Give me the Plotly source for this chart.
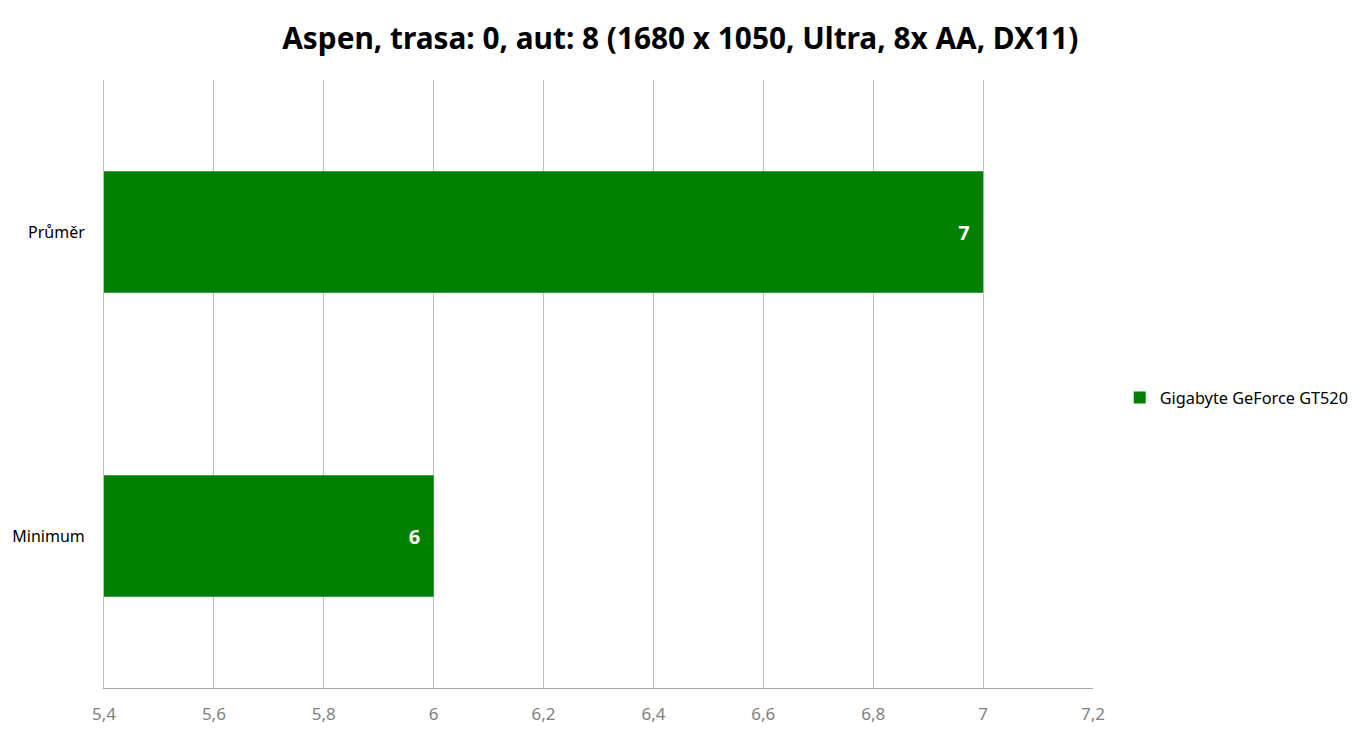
import plotly.graph_objects as go

categories = ["Minimum", "Průměr"]
values = [6, 7]
series_name = "Gigabyte GeForce GT520"
tick_vals = [5.4, 5.6, 5.8, 6.0, 6.2, 6.4, 6.6, 6.8, 7.0, 7.2]
tick_text = ["5,4", "5,6", "5,8", "6", "6,2", "6,4", "6,6", "6,8", "7", "7,2"]
title = "Aspen, trasa: 0, aut: 8 (1680 x 1050, Ultra, 8x AA, DX11)"

FONT = "Noto Sans"

fig = go.Figure()
fig.add_trace(go.Bar(
    y=categories, x=values, orientation="h", name=series_name,
    marker=dict(color="#008000", line=dict(width=0)),
    width=0.4,
    text=[f"{v}\u00a0\u00a0" for v in values], textposition="inside",
    insidetextanchor="end",
    textfont=dict(color="white", size=20, family=FONT, weight="bold"),
    showlegend=True,
))

fig.update_layout(
    width=1365, height=737,
    paper_bgcolor="white", plot_bgcolor="white",
    margin=dict(l=96, r=280, t=72, b=57, autoexpand=False),
    title=dict(text=title, x=0.4925, xanchor="center", y=0.959, yanchor="middle",
               font=dict(family=FONT, size=29.8, color="black", weight="bold")),
    font=dict(family=FONT, size=16, color="black"),
    legend=dict(x=1.027, y=0.477, xanchor="left", yanchor="middle",
                font=dict(family=FONT, size=16.3, color="black"),
                itemwidth=30, bgcolor="rgba(0,0,0,0)"),
    xaxis=dict(range=[5.4, 7.2], tickvals=tick_vals, ticktext=tick_text,
               showgrid=True, gridcolor="#bfbfbf", gridwidth=1,
               showline=True, linecolor="#a6a6a6", linewidth=1,
               zeroline=False, ticks="", ticklen=0, ticklabelstandoff=11,
               automargin=False,
               tickfont=dict(family=FONT, size=17, color="#7f7f7f")),
    yaxis=dict(showgrid=False, showline=True, linecolor="#bfbfbf", linewidth=1,
               zeroline=False,
               ticks="", ticklabelstandoff=15, automargin=False,
               tickfont=dict(family=FONT, size=16, color="black")),
    bargap=0.6,
)

fig.write_html("out.html")
